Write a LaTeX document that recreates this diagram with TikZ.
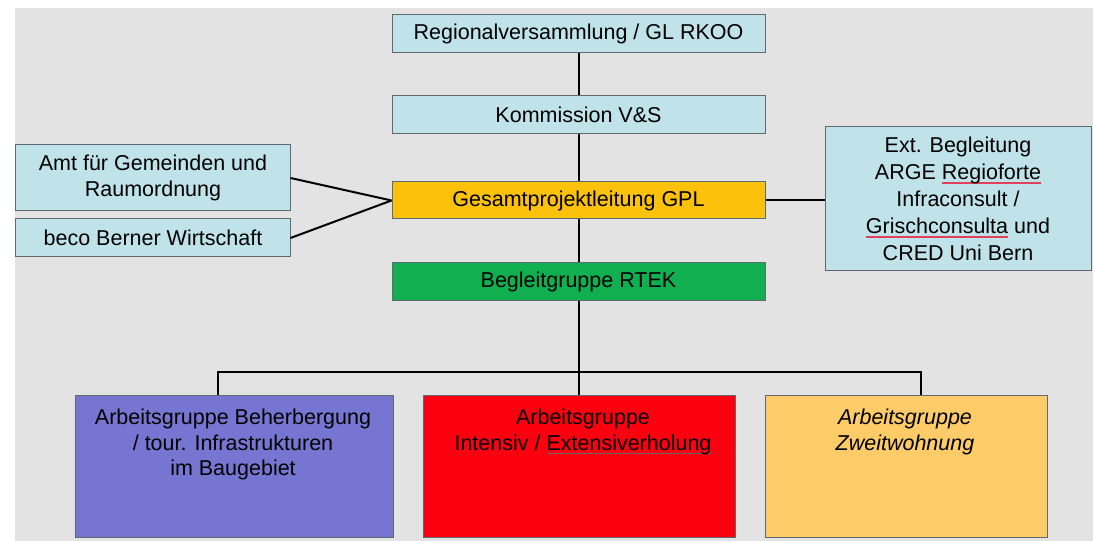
\documentclass[tikz,border=0pt]{standalone}
\usepackage{fontspec}
\setmainfont{Liberation Sans}
\definecolor{bggray}{HTML}{E3E3E3}
\definecolor{cyanbox}{HTML}{BFE3E8}
\definecolor{boxline}{HTML}{5F6A70}
\definecolor{gplorange}{HTML}{FCC10A}
\definecolor{rtekgreen}{HTML}{10B050}
\definecolor{agpurple}{HTML}{7676D2}
\definecolor{agred}{HTML}{FC0010}
\definecolor{agorange}{HTML}{FDCB68}
\definecolor{spellred}{HTML}{E0405A}
\newcommand\squig[2]{\setbox0=\hbox{#2}\rlap{\textcolor{#1}{\rule[-4bp]{\wd0}{1.2bp}}}\box0\relax}
\begin{document}
\begin{tikzpicture}[x=1bp,y=-1bp,
  box/.style={draw=boxline, line width=1bp, rectangle, inner sep=0pt, align=center,
    font=\fontsize{21.5bp}{26bp}\selectfont, text=black},
  txt/.style={inner sep=0pt, align=center, font=\fontsize{21.5bp}{25.5bp}\selectfont, text=black},
  conn/.style={line width=2bp, black}]
\useasboundingbox (0,0) rectangle (1093,541);
\fill[white] (0,0) rectangle (1093,541);
\fill[bggray] (15,8) rectangle (1093,541);

% main column
\node[box, fill=cyanbox, minimum width=373bp, minimum height=38bp] (reg) at (578.5,34) {Regionalversammlung / GL RKOO};
\node[box, fill=cyanbox, minimum width=373bp, minimum height=38bp] (komm) at (578.5,115) {Kommission V\&S};
\node[box, fill=gplorange, minimum width=373bp, minimum height=37bp] (gpl) at (578.5,200.5) {Gesamtprojektleitung GPL};
\node[box, fill=rtekgreen, minimum width=373bp, minimum height=38bp] (begl) at (578.5,282) {Begleitgruppe RTEK};

% left boxes
\node[box, fill=cyanbox, minimum width=274bp, minimum height=66bp] (amt) at (153,178) {Amt für Gemeinden und\\Raumordnung};
\node[box, fill=cyanbox, minimum width=274bp, minimum height=38bp] (beco) at (153,238) {beco Berner Wirtschaft};

% right box
\node[box, fill=cyanbox, minimum width=266bp, minimum height=144bp,
  font=\fontsize{21.5bp}{27bp}\selectfont] (ext) at (958,199)
  {Ext. Begleitung\\ARGE \squig{spellred}{Regioforte}\\Infraconsult /\\\squig{spellred}{Grischconsulta} und\\CRED Uni Bern};

% bottom boxes
\node[box, fill=agpurple, minimum width=317bp, minimum height=141bp] (ag1) at (234.5,466.5) {};
\node[box, fill=agred, minimum width=312bp, minimum height=141bp] (ag2) at (579,466.5) {};
\node[box, fill=agorange, minimum width=282bp, minimum height=141bp] (ag3) at (906,466.5) {};
\node[txt, anchor=north] (ag1t) at (233,409) {Arbeitsgruppe Beherbergung\\/ tour. Infrastrukturen\\im Baugebiet};
\node[txt, anchor=north] (ag2t) at (583,409) {Arbeitsgruppe\\Intensiv / \squig{black!60}{Extensiverholung}};
\node[txt, anchor=north, font=\fontsize{21.5bp}{25.5bp}\selectfont\itshape] (ag3t) at (905,409) {Arbeitsgruppe\\Zweitwohnung};

% connectors
\draw[conn] (reg.south) -- (komm.north);
\draw[conn] (komm.south) -- (gpl.north);
\draw[conn] (gpl.south) -- (begl.north);
\coordinate (bus) at (578.5,372);
\coordinate (busL) at (218,372);
\coordinate (busR) at (921,372);
\draw[conn] (begl.south) -- (bus);
\draw[conn] (ag1.north -| busL) -- (busL) -- (busR) -- (ag3.north -| busR);
\draw[conn] (bus) -- (ag2.north -| bus);
\draw[conn] (amt.east) -- (gpl.west);
\draw[conn] (beco.east) -- (gpl.west);
\draw[conn] (gpl.east) -- (gpl.east -| ext.west);
\end{tikzpicture}
\end{document}
